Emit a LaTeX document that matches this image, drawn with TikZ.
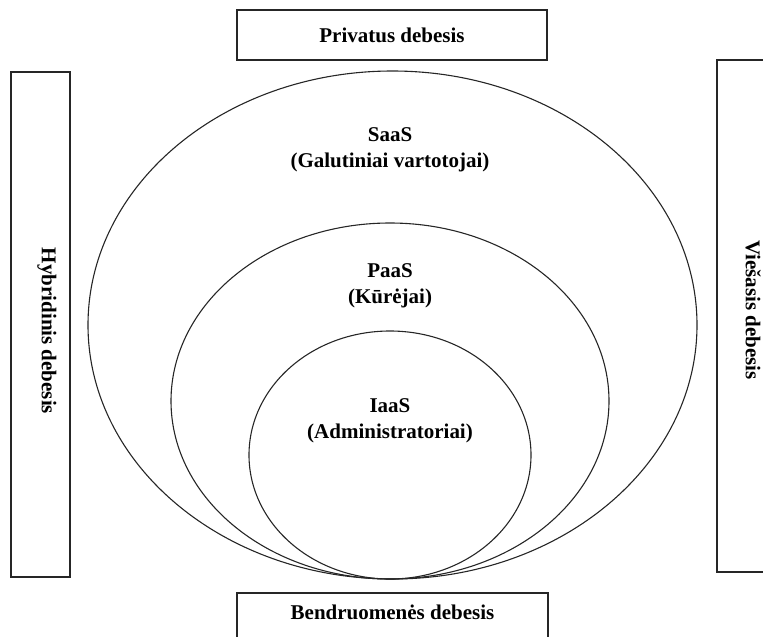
\documentclass[tikz,border=0pt]{standalone}
\usepackage{fontspec}
\setmainfont{Liberation Serif}
\begin{document}
\begin{tikzpicture}[x=1pt,y=-1pt,
  lbl/.style={font=\fontsize{21}{26}\selectfont\bfseries, text=black, align=center, inner sep=0pt},
  cbox/.style={draw=black!85, line width=1.3pt, inner sep=0pt, fill=white},
  ring/.style={draw=black!85, line width=1.1pt}]
\clip (0,0) rectangle (763,637);
% boxes
\node[cbox, minimum width=310pt, minimum height=50pt] (top) at (392,35) {};
\node[lbl] (toptxt) at (top.center) {Privatus debesis};
\node[cbox, minimum width=311pt, minimum height=50pt] (bot) at (392.5,618) {};
\node[lbl] (bottxt) at (392.5,612) {Bendruomenės debesis};
\node[cbox, minimum width=59pt, minimum height=505pt] (left) at (40.5,324.5) {};
\node[lbl, rotate=-90] (lefttxt) at (47,331) {Hybridinis debesis};
\node[cbox, minimum width=59pt, minimum height=512pt] (right) at (746.5,316) {};
\node[lbl, rotate=-90] (righttxt) at (753,310) {Viešasis debesis};
% ellipses
\draw[ring] (392.5,325) ellipse [x radius=304.5pt, y radius=254pt];
\draw[ring] (390,401) ellipse [x radius=219pt, y radius=178pt];
\draw[ring] (390,455) ellipse [x radius=141pt, y radius=124pt];
% labels
\node[lbl] (saas) at (390,150) {SaaS\\(Galutiniai vartotojai)};
\node[lbl] (paas) at (390,286) {PaaS\\(Kūrėjai)};
\node[lbl] (iaas) at (390,421) {IaaS\\(Administratoriai)};
\end{tikzpicture}
\end{document}
